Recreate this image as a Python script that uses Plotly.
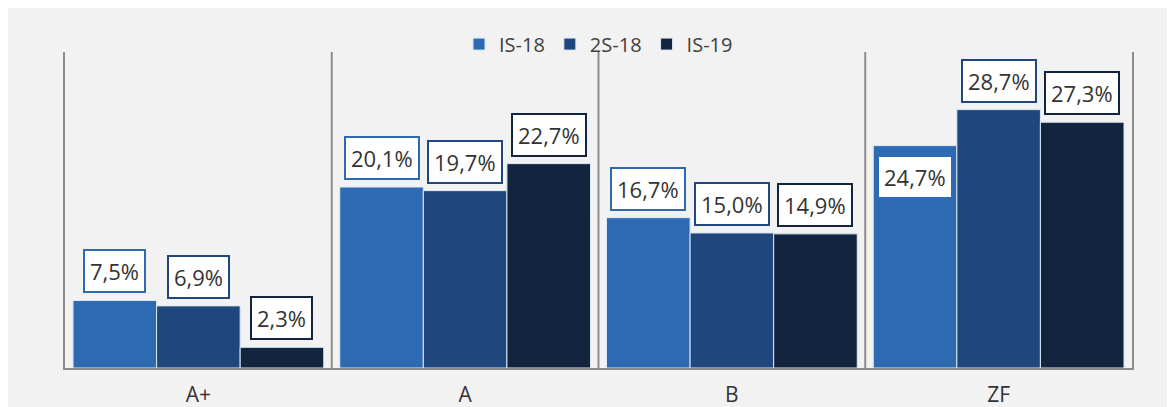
import plotly.graph_objects as go

# Datos
categorias = ['A+', 'A', 'B', 'ZF']
series = ['IS-18', '2S-18', 'IS-19']
valores_is18 = [7.5, 20.1, 16.7, 24.7]
valores_2s18 = [6.9, 19.7, 15.0, 28.7]
valores_is19 = [2.3, 22.7, 14.9, 27.3]

colores = ['#2D6AB2', '#1F477D', '#13243F']
valores = [valores_is18, valores_2s18, valores_is19]

fig = go.Figure()

for nombre, vals, color in zip(series, valores, colores):
    fig.add_trace(go.Bar(
        x=categorias, y=vals, name=nombre,
        marker=dict(color=color, line=dict(color='#DCE8F4', width=1)),
        hoverinfo='skip'
    ))

# Etiquetas con recuadro blanco
ancho_barra = 1067 / 4 * 0.94 / 3
for i, (vals, color) in enumerate(zip(valores, colores)):
    for cat, v in zip(categorias, vals):
        dentro = (cat == 'ZF' and i == 0)
        fig.add_annotation(
            x=cat, y=v, xref='x', yref='y',
            text=f'{v:.1f}%'.replace('.', ','),
            showarrow=False,
            xshift=(i - 1) * ancho_barra,
            yanchor='top' if dentro else 'bottom',
            yshift=-9 if dentro else 7,
            font=dict(family='Open Sans', size=22, color='#333333'),
            bgcolor='white', bordercolor=color, borderwidth=2, borderpad=5
        )

# Separadores verticales entre categorías
for xv in [0.5, 1.5, 2.5]:
    fig.add_shape(type='line', xref='x', yref='paper', x0=xv, x1=xv, y0=0, y1=1,
                  line=dict(color='#8C8C8C', width=2), layer='below')

fig.update_layout(
    width=1175, height=407,
    margin=dict(l=57, r=51, t=44, b=47),
    paper_bgcolor='#F2F2F2', plot_bgcolor='#F2F2F2',
    barmode='group', bargap=0.06, bargroupgap=0,
    font=dict(family='Open Sans', color='#404040'),
    showlegend=True,
    legend=dict(orientation='h', x=0.5, xanchor='center', y=1.025, yanchor='middle',
                font=dict(size=20, color='#404040'), bgcolor='rgba(0,0,0,0)',
                itemwidth=30, tracegroupgap=0),
    xaxis=dict(range=[-0.5, 3.5], showline=True, linecolor='#8C8C8C', linewidth=2,
               mirror=False, showgrid=False, zeroline=False, ticks='', automargin=False,
               tickfont=dict(size=21, color='#333333'), ticklabelstandoff=7),
    yaxis=dict(range=[0, 35.1], showline=True, linecolor='#8C8C8C', linewidth=2,
               mirror=True, showgrid=False, zeroline=False, showticklabels=False,
               ticks='', automargin=False),
)

fig.write_html('out.html')
